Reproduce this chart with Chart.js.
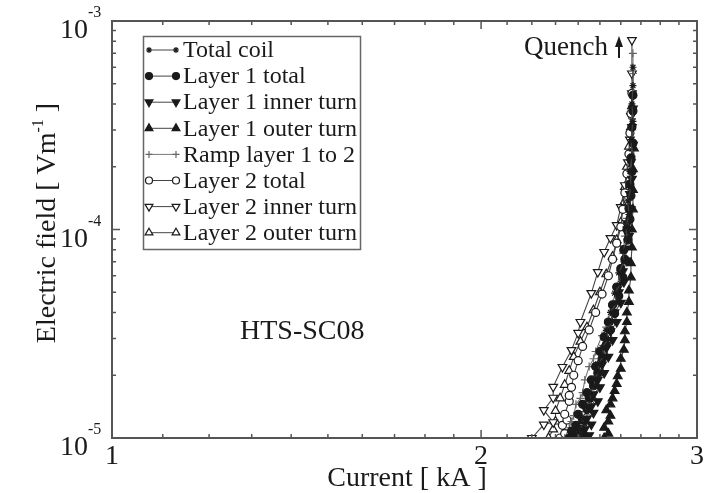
<!DOCTYPE html>
<html>
<head>
<meta charset="utf-8">
<script src="https://cdn.jsdelivr.net/npm/chart.js@4"></script>
<style>
  body { margin: 0; background: #fff; }
  #wrap { width: 704px; height: 493px; }
</style>
</head>
<body>
<div id="wrap"><canvas id="chart" width="704" height="493"></canvas></div>
<script>
// current [kA] and electric field [V/m], one pair per series
const totalCoilI = [2.39, 2.42, 2.40, 2.43, 2.41, 2.44, 2.43, 2.46, 2.45, 2.48, 2.47, 2.50, 2.49, 2.52, 2.51, 2.54, 2.53, 2.56, 2.55, 2.58, 2.57, 2.60, 2.59, 2.615, 2.61, 2.63, 2.625, 2.64, 2.635, 2.65, 2.645, 2.655, 2.65, 2.66, 2.655, 2.66, 2.66];
const totalCoilE = [1.0e-5, 1.04e-5, 1.1e-5, 1.17e-5, 1.25e-5, 1.33e-5, 1.42e-5, 1.52e-5, 1.64e-5, 1.77e-5, 1.92e-5, 2.08e-5, 2.27e-5, 2.48e-5, 2.72e-5, 2.98e-5, 3.28e-5, 3.62e-5, 4.0e-5, 4.45e-5, 4.95e-5, 5.5e-5, 6.2e-5, 7.0e-5, 7.9e-5, 9.0e-5, 1.03e-4, 1.18e-4, 1.37e-4, 1.6e-4, 1.9e-4, 2.25e-4, 2.7e-4, 3.3e-4, 4.0e-4, 4.9e-4, 6.0e-4];

const layer1TotalI = [2.36, 2.39, 2.37, 2.41, 2.39, 2.42, 2.40, 2.44, 2.42, 2.45, 2.44, 2.47, 2.46, 2.49, 2.48, 2.51, 2.50, 2.53, 2.52, 2.55, 2.54, 2.57, 2.56, 2.59, 2.58, 2.61, 2.60, 2.62, 2.615, 2.635, 2.63, 2.645, 2.64, 2.65, 2.645, 2.655, 2.65, 2.66, 2.655, 2.66, 2.66];
const layer1TotalE = [1.0e-5, 1.02e-5, 1.08e-5, 1.1e-5, 1.15e-5, 1.22e-5, 1.3e-5, 1.38e-5, 1.45e-5, 1.55e-5, 1.65e-5, 1.78e-5, 1.9e-5, 2.05e-5, 2.2e-5, 2.4e-5, 2.6e-5, 2.8e-5, 3.05e-5, 3.3e-5, 3.6e-5, 3.95e-5, 4.35e-5, 4.8e-5, 5.3e-5, 5.9e-5, 6.5e-5, 7.2e-5, 8.0e-5, 8.9e-5, 1.0e-4, 1.12e-4, 1.26e-4, 1.45e-4, 1.65e-4, 1.9e-4, 2.2e-4, 2.6e-4, 3.1e-4, 3.7e-4, 4.4e-4];

const layer1InnerI = [2.42, 2.45, 2.43, 2.46, 2.44, 2.47, 2.46, 2.49, 2.47, 2.50, 2.49, 2.52, 2.51, 2.54, 2.53, 2.56, 2.55, 2.58, 2.57, 2.60, 2.59, 2.615, 2.61, 2.63, 2.62, 2.64, 2.635, 2.65, 2.645, 2.655, 2.65, 2.66, 2.655, 2.66];
const layer1InnerE = [1.0e-5, 1.03e-5, 1.1e-5, 1.16e-5, 1.24e-5, 1.32e-5, 1.42e-5, 1.5e-5, 1.62e-5, 1.75e-5, 1.9e-5, 2.05e-5, 2.25e-5, 2.45e-5, 2.7e-5, 2.95e-5, 3.25e-5, 3.6e-5, 4.0e-5, 4.45e-5, 5.0e-5, 5.6e-5, 6.3e-5, 7.1e-5, 8.1e-5, 9.3e-5, 1.07e-4, 1.25e-4, 1.48e-4, 1.75e-4, 2.1e-4, 2.55e-4, 3.1e-4, 3.8e-4];

const layer1OuterI = [2.52, 2.54, 2.52, 2.54, 2.55, 2.53, 2.55, 2.56, 2.57, 2.58, 2.585, 2.60, 2.60, 2.615, 2.62, 2.62, 2.63, 2.63, 2.64, 2.64, 2.65, 2.65, 2.655, 2.655, 2.66, 2.66, 2.66, 2.665];
const layer1OuterE = [1.0e-5, 1.05e-5, 1.12e-5, 1.2e-5, 1.28e-5, 1.36e-5, 1.45e-5, 1.55e-5, 1.68e-5, 1.82e-5, 1.98e-5, 2.15e-5, 2.4e-5, 2.65e-5, 2.95e-5, 3.25e-5, 3.6e-5, 4.0e-5, 4.5e-5, 5.1e-5, 5.9e-5, 6.9e-5, 8.2e-5, 1.0e-4, 1.25e-4, 1.55e-4, 1.95e-4, 2.45e-4];

const rampI = [2.34, 2.36, 2.37, 2.38, 2.39, 2.41, 2.42, 2.43, 2.45, 2.47, 2.48, 2.51, 2.53, 2.54, 2.56, 2.58, 2.60, 2.61, 2.62, 2.63, 2.64, 2.645, 2.65, 2.655, 2.655, 2.66, 2.66, 2.66];
const rampE = [1.0e-5, 1.12e-5, 1.2e-5, 1.28e-5, 1.45e-5, 1.55e-5, 1.65e-5, 1.9e-5, 2.2e-5, 2.4e-5, 2.6e-5, 3.1e-5, 3.4e-5, 3.7e-5, 4.4e-5, 5.3e-5, 6.4e-5, 7.7e-5, 9.3e-5, 1.13e-4, 1.38e-4, 1.7e-4, 2.1e-4, 2.65e-4, 3.4e-4, 4.4e-4, 5.6e-4, 7.0e-4];

const layer2TotalI = [2.32, 2.34, 2.33, 2.35, 2.34, 2.36, 2.36, 2.37, 2.38, 2.40, 2.42, 2.45, 2.48, 2.51, 2.54, 2.56, 2.58, 2.60, 2.61, 2.62, 2.63, 2.64, 2.645, 2.65, 2.655];
const layer2TotalE = [1.0e-5, 1.05e-5, 1.15e-5, 1.22e-5, 1.3e-5, 1.5e-5, 1.6e-5, 1.75e-5, 2.0e-5, 2.35e-5, 2.75e-5, 3.3e-5, 4.0e-5, 4.9e-5, 6.0e-5, 7.2e-5, 8.6e-5, 1.03e-4, 1.25e-4, 1.5e-4, 1.85e-4, 2.3e-4, 2.9e-4, 3.6e-4, 4.5e-4];

const layer2InnerI = [2.20, 2.25, 2.29, 2.25, 2.29, 2.29, 2.33, 2.37, 2.40, 2.41, 2.46, 2.49, 2.52, 2.55, 2.58, 2.60, 2.62, 2.635, 2.645, 2.65, 2.655, 2.655, 2.655];
const layer2InnerE = [1.0e-5, 1.16e-5, 1.19e-5, 1.36e-5, 1.56e-5, 1.76e-5, 2.19e-5, 2.64e-5, 3.19e-5, 3.6e-5, 4.95e-5, 6.25e-5, 7.8e-5, 9.1e-5, 1.05e-4, 1.28e-4, 1.63e-4, 2.1e-4, 2.7e-4, 3.5e-4, 4.5e-4, 5.6e-4, 8.1e-4];

const layer2OuterI = [2.27, 2.29, 2.30, 2.30, 2.32, 2.34, 2.36, 2.38, 2.41, 2.44, 2.47, 2.50, 2.53, 2.56, 2.58, 2.60, 2.61, 2.62, 2.63, 2.64, 2.65, 2.655];
const layer2OuterE = [1.0e-5, 1.1e-5, 1.2e-5, 1.35e-5, 1.55e-5, 1.8e-5, 2.1e-5, 2.45e-5, 2.9e-5, 3.4e-5, 4.1e-5, 5.0e-5, 6.1e-5, 7.4e-5, 8.9e-5, 1.08e-4, 1.32e-4, 1.6e-4, 2.0e-4, 2.5e-4, 3.1e-4, 3.9e-4];

const seriesNames = ['Total coil', 'Layer 1 total', 'Layer 1 inner turn', 'Layer 1 outer turn',
    'Ramp layer 1 to 2', 'Layer 2 total', 'Layer 2 inner turn', 'Layer 2 outer turn'];

// axis ticks
const xTicks = [1, 1.1, 1.2, 1.3, 1.4, 1.5, 1.6, 1.7, 1.8, 1.9, 2, 2.1, 2.2, 2.3, 2.4, 2.5, 2.6, 2.7, 2.8, 2.9, 3];
const xTickLabels = ['1', '2', '3'];
const yTicks = [1e-5, 2e-5, 3e-5, 4e-5, 5e-5, 6e-5, 7e-5, 8e-5, 9e-5, 1e-4, 2e-4, 3e-4, 4e-4, 5e-4, 6e-4, 7e-4, 8e-4, 9e-4, 1e-3];
const yTickExponents = [-5, -4, -3];

function pts(xs, ys) {
    return xs.map((v, i) => ({ x: v, y: ys[i] }));
}

var serif = '"Liberation Serif", "Times New Roman", serif';
var ink = '#1a1a1a';

// marker style per series, same order as seriesNames
var styles = [
    { pointStyle: 'star', radius: 3.5, fill: ink, rot: 0 },
    { pointStyle: 'circle', radius: 4, fill: ink, rot: 0 },
    { pointStyle: 'triangle', radius: 5, fill: ink, rot: 180 },
    { pointStyle: 'triangle', radius: 5, fill: ink, rot: 0 },
    { pointStyle: 'cross', radius: 4, fill: '#777', rot: 0 },
    { pointStyle: 'circle', radius: 4, fill: '#fff', rot: 0 },
    { pointStyle: 'triangle', radius: 5, fill: '#fff', rot: 180 },
    { pointStyle: 'triangle', radius: 5, fill: '#fff', rot: 0 }
];

var seriesData = [
    pts(totalCoilI, totalCoilE), pts(layer1TotalI, layer1TotalE), pts(layer1InnerI, layer1InnerE),
    pts(layer1OuterI, layer1OuterE), pts(rampI, rampE), pts(layer2TotalI, layer2TotalE),
    pts(layer2InnerI, layer2InnerE), pts(layer2OuterI, layer2OuterE)
];

var datasets = seriesNames.map(function (name, i) {
    var s = styles[i];
    return {
        label: name,
        data: seriesData[i],
        showLine: true,
        borderColor: i === 4 ? '#777' : '#444',
        borderWidth: 1.1,
        pointStyle: s.pointStyle,
        pointRadius: s.radius,
        pointRotation: s.rot,
        pointBackgroundColor: s.fill,
        pointBorderColor: i === 4 ? '#666' : ink,
        pointBorderWidth: 1.2
    };
});

function drawMarker(ctx, s, x, y) {
    ctx.fillStyle = s.fill;
    ctx.strokeStyle = s.pointStyle === 'cross' ? '#666' : ink;
    ctx.lineWidth = 1.2;
    Chart.helpers.drawPoint(ctx, { pointStyle: s.pointStyle, rotation: s.rot, radius: s.radius - 0.5, borderWidth: 1.2 }, x, y);
}

// frame, inward ticks, labels, legend and notes
const decorPlugin = {
    id: 'decor',
    afterDraw: function (chart) {
        var ctx = chart.ctx;
        var a = chart.chartArea;
        var xs = chart.scales.x, ys = chart.scales.y;
        ctx.save();

        ctx.strokeStyle = '#555';
        ctx.lineWidth = 1.5;
        xTicks.forEach(function (v) {
            var px = xs.getPixelForValue(v);
            var len = (v === 1 || v === 2 || v === 3) ? 8 : 4;
            ctx.beginPath();
            ctx.moveTo(px, a.bottom); ctx.lineTo(px, a.bottom - len);
            ctx.moveTo(px, a.top); ctx.lineTo(px, a.top + len);
            ctx.stroke();
        });
        yTicks.forEach(function (v) {
            var py = ys.getPixelForValue(v);
            var major = Math.abs(Math.log10(v) - Math.round(Math.log10(v))) < 1e-9;
            var len = major ? 8 : 4;
            ctx.beginPath();
            ctx.moveTo(a.left, py); ctx.lineTo(a.left + len, py);
            ctx.moveTo(a.right, py); ctx.lineTo(a.right - len, py);
            ctx.stroke();
        });
        ctx.lineWidth = 2;
        ctx.strokeRect(a.left, a.top, a.right - a.left, a.bottom - a.top);

        ctx.fillStyle = ink;
        // x tick labels
        ctx.font = '28px ' + serif;
        ctx.textAlign = 'center';
        ctx.textBaseline = 'alphabetic';
        xTickLabels.forEach(function (t) {
            ctx.fillText(t, xs.getPixelForValue(Number(t)), 464);
        });
        // y tick labels 10^n
        yTickExponents.forEach(function (e) {
            var py = ys.getPixelForValue(Math.pow(10, e));
            ctx.font = '28px ' + serif;
            ctx.textAlign = 'right';
            ctx.fillText('10', 88, py + 17);
            ctx.font = '16px ' + serif;
            ctx.textAlign = 'left';
            ctx.fillText(String(e), 88, py - 4);
        });

        // axis titles
        ctx.font = '28px ' + serif;
        ctx.textAlign = 'center';
        ctx.fillText('Current [ kA ]', 407, 486);

        ctx.save();
        ctx.translate(55, 223);
        ctx.rotate(-Math.PI / 2);
        var p1 = 'Electric field [ Vm', p2 = '-1', p3 = ' ]';
        ctx.font = '28px ' + serif;
        var w1 = ctx.measureText(p1).width, w3 = ctx.measureText(p3).width;
        ctx.font = '16px ' + serif;
        var w2 = ctx.measureText(p2).width;
        var x0 = -(w1 + w2 + w3) / 2;
        ctx.textAlign = 'left';
        ctx.font = '28px ' + serif;
        ctx.fillText(p1, x0, 0);
        ctx.fillText(p3, x0 + w1 + w2, 0);
        ctx.font = '16px ' + serif;
        ctx.fillText(p2, x0 + w1, -12);
        ctx.restore();

        // legend
        ctx.strokeStyle = '#666';
        ctx.lineWidth = 1.5;
        ctx.strokeRect(143.5, 36.5, 217, 213);
        ctx.font = '24px ' + serif;
        ctx.textAlign = 'left';
        ctx.textBaseline = 'middle';
        seriesNames.forEach(function (name, i) {
            var ry = 50 + i * 26.1;
            ctx.strokeStyle = i === 4 ? '#777' : '#444';
            ctx.lineWidth = 1;
            ctx.beginPath();
            ctx.moveTo(149, ry); ctx.lineTo(176, ry);
            ctx.stroke();
            drawMarker(ctx, styles[i], 149, ry);
            drawMarker(ctx, styles[i], 176, ry);
            ctx.fillStyle = ink;
            ctx.fillText(name, 183, ry + 1);
        });

        // notes
        ctx.textBaseline = 'alphabetic';
        ctx.font = '27px ' + serif;
        ctx.fillText('Quench', 524, 55);
        ctx.strokeStyle = ink;
        ctx.lineWidth = 2;
        ctx.beginPath();
        ctx.moveTo(619, 58); ctx.lineTo(619, 44);
        ctx.stroke();
        ctx.beginPath();
        ctx.moveTo(619, 36); ctx.lineTo(615, 47); ctx.lineTo(623, 47);
        ctx.closePath();
        ctx.fill();

        ctx.font = '28px ' + serif;
        ctx.fillText('HTS-SC08', 240, 339);
        ctx.restore();
    }
};

new Chart(document.getElementById('chart').getContext('2d'), {
    type: 'scatter',
    data: { datasets: datasets },
    options: {
        responsive: false,
        animation: false,
        layout: { padding: { left: 112, right: 7, top: 21, bottom: 55 } },
        plugins: { legend: { display: false }, tooltip: { enabled: false } },
        scales: {
            x: { type: 'logarithmic', min: 1, max: 3, display: false },
            y: { type: 'logarithmic', min: 1e-5, max: 1e-3, display: false }
        }
    },
    plugins: [decorPlugin]
});
</script>
</body>
</html>
